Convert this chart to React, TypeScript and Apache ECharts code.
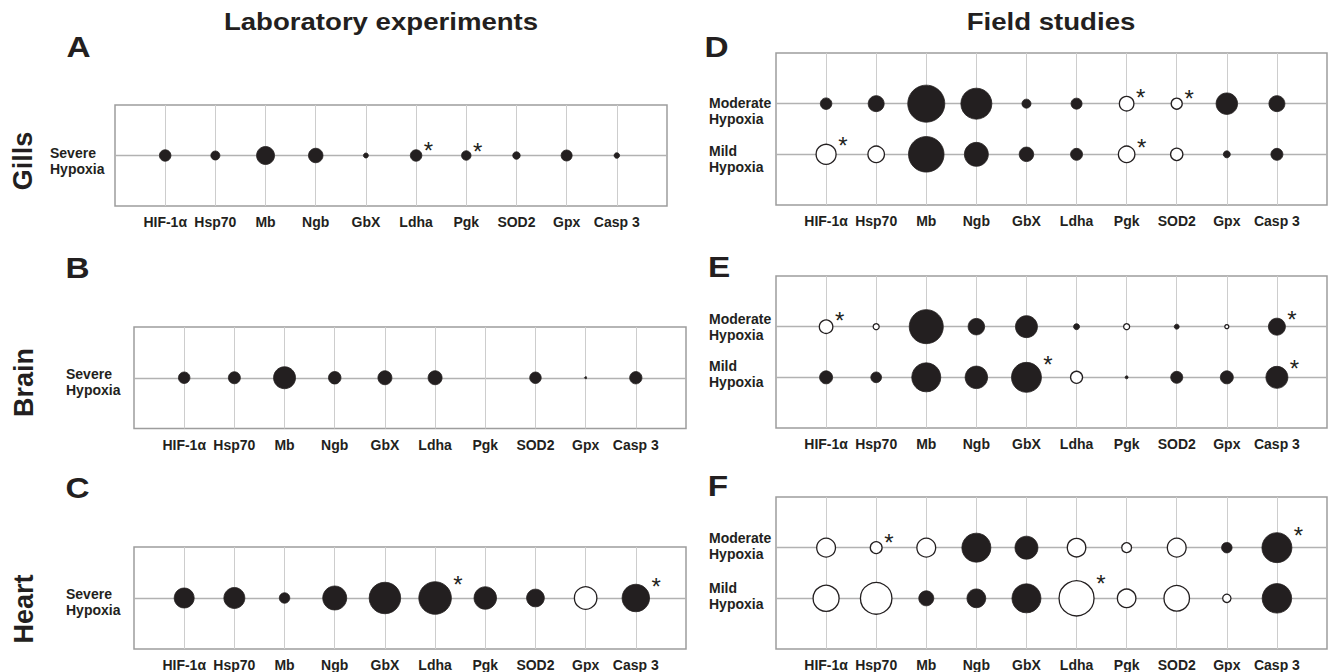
import React, { useEffect, useRef } from "react";
import * as echarts from "echarts";

const genes = ["HIF-1α", "Hsp70", "Mb", "Ngb", "GbX", "Ldha", "Pgk", "SOD2", "Gpx", "Casp 3"];

// Laboratory experiments (severe hypoxia): bubble diameters, open (1) / filled (0), significance (*)
const gillsSevereSize = [11.5, 9, 18, 14.5, 5, 11.5, 9.5, 7.5, 11, 5.5];
const gillsSevereOpen = [0, 0, 0, 0, 0, 0, 0, 0, 0, 0];
const gillsSevereSig = [0, 0, 0, 0, 0, 1, 1, 0, 0, 0];

const brainSevereSize = [11.5, 12, 22, 12.5, 14, 14, null, 11.5, 2, 12.3];
const brainSevereOpen = [0, 0, 0, 0, 0, 0, 0, 0, 0, 0];
const brainSevereSig = [0, 0, 0, 0, 0, 0, 0, 0, 0, 0];

const heartSevereSize = [20, 21, 10.5, 24, 31.5, 32.5, 22.5, 17.7, 22.5, 27.5];
const heartSevereOpen = [0, 0, 0, 0, 0, 0, 0, 0, 1, 0];
const heartSevereSig = [0, 0, 0, 0, 0, 1, 0, 0, 0, 1];

// Field studies
const gillsModerateSize = [11.5, 16, 37, 31, 9, 11, 14.5, 11, 21.5, 16];
const gillsModerateOpen = [0, 0, 0, 0, 0, 0, 1, 1, 0, 0];
const gillsModerateSig = [0, 0, 0, 0, 0, 0, 1, 1, 0, 0];
const gillsMildSize = [20, 16.5, 35.5, 24, 14.5, 12, 16.5, 12.3, 7, 12];
const gillsMildOpen = [1, 1, 0, 0, 0, 0, 1, 1, 0, 0];
const gillsMildSig = [1, 0, 0, 0, 0, 0, 1, 0, 0, 0];

const brainModerateSize = [13.5, 6, 34, 16.5, 22, 6, 6, 5, 4, 17];
const brainModerateOpen = [1, 1, 0, 0, 0, 0, 1, 0, 1, 0];
const brainModerateSig = [1, 0, 0, 0, 0, 0, 0, 0, 0, 1];
const brainMildSize = [13, 10.7, 29, 22.5, 30, 12, 3, 12, 13, 22];
const brainMildOpen = [0, 0, 0, 0, 0, 1, 0, 0, 0, 0];
const brainMildSig = [0, 0, 0, 0, 1, 0, 0, 0, 0, 1];

const heartModerateSize = [18.8, 11.8, 18.8, 29, 23, 18.5, 9.8, 18.8, 10.5, 30];
const heartModerateOpen = [1, 1, 1, 0, 0, 1, 1, 1, 0, 0];
const heartModerateSig = [0, 1, 0, 0, 0, 0, 0, 0, 0, 1];
const heartMildSize = [26, 31.5, 15, 18.8, 29, 35, 18.5, 25.5, 8.3, 29.5];
const heartMildOpen = [1, 1, 0, 0, 0, 1, 1, 1, 1, 0];
const heartMildSig = [0, 0, 0, 0, 0, 1, 0, 0, 0, 0];

const INK = "#231f20";
const FONT = "'Liberation Sans', Arial, Helvetica, sans-serif";

type Row = { label: string[]; value: number; sizes: (number | null)[]; open: number[]; sig: number[]; shift: number };
type Panel = { grid: { left: number; top: number; width: number; height: number }; yMax: number; margin: number; rows: Row[] };

const panels: Panel[] = [
  {
    grid: { left: 115, top: 105, width: 552, height: 101 }, yMax: 2, margin: 65,
    rows: [{ label: ["Severe", "Hypoxia"], value: 1, sizes: gillsSevereSize, open: gillsSevereOpen, sig: gillsSevereSig, shift: 5 }],
  },
  {
    grid: { left: 134, top: 327, width: 552, height: 101.5 }, yMax: 2, margin: 68,
    rows: [{ label: ["Severe", "Hypoxia"], value: 1, sizes: brainSevereSize, open: brainSevereOpen, sig: brainSevereSig, shift: 4 }],
  },
  {
    grid: { left: 134, top: 547, width: 552, height: 102 }, yMax: 2, margin: 68,
    rows: [{ label: ["Severe", "Hypoxia"], value: 1, sizes: heartSevereSize, open: heartSevereOpen, sig: heartSevereSig, shift: 3.5 }],
  },
  {
    grid: { left: 776, top: 53, width: 552, height: 152 }, yMax: 3, margin: 67,
    rows: [
      { label: ["Moderate", "Hypoxia"], value: 2, sizes: gillsModerateSize, open: gillsModerateOpen, sig: gillsModerateSig, shift: 7 },
      { label: ["Mild", "Hypoxia"], value: 1, sizes: gillsMildSize, open: gillsMildOpen, sig: gillsMildSig, shift: 4.5 },
    ],
  },
  {
    grid: { left: 776, top: 276, width: 552, height: 152 }, yMax: 3, margin: 67,
    rows: [
      { label: ["Moderate", "Hypoxia"], value: 2, sizes: brainModerateSize, open: brainModerateOpen, sig: brainModerateSig, shift: 0 },
      { label: ["Mild", "Hypoxia"], value: 1, sizes: brainMildSize, open: brainMildOpen, sig: brainMildSig, shift: -3 },
    ],
  },
  {
    grid: { left: 776, top: 497, width: 552, height: 152 }, yMax: 3, margin: 67,
    rows: [
      { label: ["Moderate", "Hypoxia"], value: 2, sizes: heartModerateSize, open: heartModerateOpen, sig: heartModerateSig, shift: -1.5 },
      { label: ["Mild", "Hypoxia"], value: 1, sizes: heartMildSize, open: heartMildOpen, sig: heartMildSig, shift: -2 },
    ],
  },
];

function rowData(row: Row) {
  const out: any[] = [];
  row.sizes.forEach((s, i) => {
    if (s == null) return;
    const isOpen = row.open[i] === 1;
    out.push({
      value: [i + 1, row.value, s],
      itemStyle: isOpen
        ? { color: "#ffffff", borderColor: INK, borderWidth: 1.3, opacity: 1 }
        : { color: INK, borderColor: INK, borderWidth: 0.8, opacity: 1 },
      label: row.sig[i]
        ? {
            show: true,
            formatter: "*",
            position: "right",
            distance: 1.5,
            offset: [0, -(0.4 * s + 0.5)],
            fontSize: 24,
            color: INK,
            opacity: 1,
            fontFamily: FONT,
          }
        : { show: false },
    });
  });
  return out;
}

function buildOption() {
  const grid: any[] = [];
  const xAxis: any[] = [];
  const yAxis: any[] = [];
  const series: any[] = [];
  panels.forEach((p, gi) => {
    grid.push({ ...p.grid, show: true, borderColor: "#9d9d9d", borderWidth: 1.5, backgroundColor: "transparent" });
    xAxis.push({
      gridIndex: gi,
      type: "value",
      min: 0,
      max: 11,
      interval: 1,
      axisLine: { show: false },
      axisTick: { show: false },
      splitLine: { show: true, showMinLine: false, showMaxLine: false, lineStyle: { color: "#cdcdcd", width: 1 } },
      axisLabel: {
        formatter: (v: number) => genes[v - 1] ?? "",
        margin: 9,
        fontSize: 14,
        fontWeight: "bold",
        color: INK,
        fontFamily: FONT,
      },
    });
    const rich: any = { r: { fontSize: 14, fontWeight: "bold", lineHeight: 16, color: INK, fontFamily: FONT } };
    p.rows.forEach((r) => {
      const h = Math.round(Math.abs(r.shift) * 2);
      if (h > 0) rich["h" + h] = { fontSize: 1, lineHeight: h };
    });
    yAxis.push({
      gridIndex: gi,
      type: "value",
      min: 0,
      max: p.yMax,
      interval: 1,
      axisLine: { show: false },
      axisTick: { show: false },
      splitLine: { show: true, showMinLine: false, showMaxLine: false, lineStyle: { color: "#b2b2b2", width: 1.3 } },
      axisLabel: {
        align: "left",
        margin: p.margin,
        rich,
        formatter: (v: number) => {
          const r = p.rows.find((row) => row.value === v);
          if (!r) return "";
          const body = r.label.map((t) => `{r|${t}}`).join("\n");
          const h = Math.round(Math.abs(r.shift) * 2);
          if (h === 0) return body;
          return r.shift > 0 ? `{h${h}| }\n${body}` : `${body}\n{h${h}| }`;
        },
      },
    });
    p.rows.forEach((r) => {
      series.push({
        type: "scatter",
        xAxisIndex: gi,
        yAxisIndex: gi,
        symbol: "circle",
        symbolSize: (v: number[]) => v[2],
        itemStyle: { opacity: 1 },
        data: rowData(r),
        z: 3,
      });
    });
  });

  const heading = (text: string, x: number, y: number, size: number, sx: number, rot = 0) => ({
    type: "text",
    x,
    y,
    rotation: rot,
    scaleX: sx,
    style: {
      text,
      fontSize: size,
      fontWeight: "bold",
      fontFamily: FONT,
      fill: INK,
      align: "center",
      verticalAlign: "middle",
      textAlign: "center",
      textVerticalAlign: "middle",
    },
  });

  const graphic = [
    heading("Laboratory experiments", 381, 22, 23, 1.2),
    heading("Field studies", 1051, 22, 23, 1.2),
    heading("A", 78.5, 47.5, 29, 1.15),
    heading("B", 77.5, 268, 29, 1.15),
    heading("C", 77.5, 488, 29, 1.15),
    heading("D", 716.5, 47.5, 29, 1.15),
    heading("E", 719, 267.5, 29, 1.15),
    heading("F", 718, 486, 29, 1.15),
    heading("Gills", 23, 161, 27, 1, Math.PI / 2),
    heading("Brain", 23.5, 382.5, 27, 1, Math.PI / 2),
    heading("Heart", 23.5, 609, 27, 1, Math.PI / 2),
  ];

  return {
    animation: false,
    backgroundColor: "#ffffff",
    textStyle: { fontFamily: FONT },
    grid,
    xAxis,
    yAxis,
    series,
    graphic,
  };
}

export default function App() {
  const ref = useRef<HTMLDivElement>(null);
  useEffect(() => {
    document.body.style.margin = "0";
    const chart = echarts.init(ref.current as HTMLDivElement, null, { renderer: "svg" });
    chart.setOption(buildOption() as any);
    return () => chart.dispose();
  }, []);
  return <div ref={ref} style={{ width: 1330, height: 672 }} />;
}
